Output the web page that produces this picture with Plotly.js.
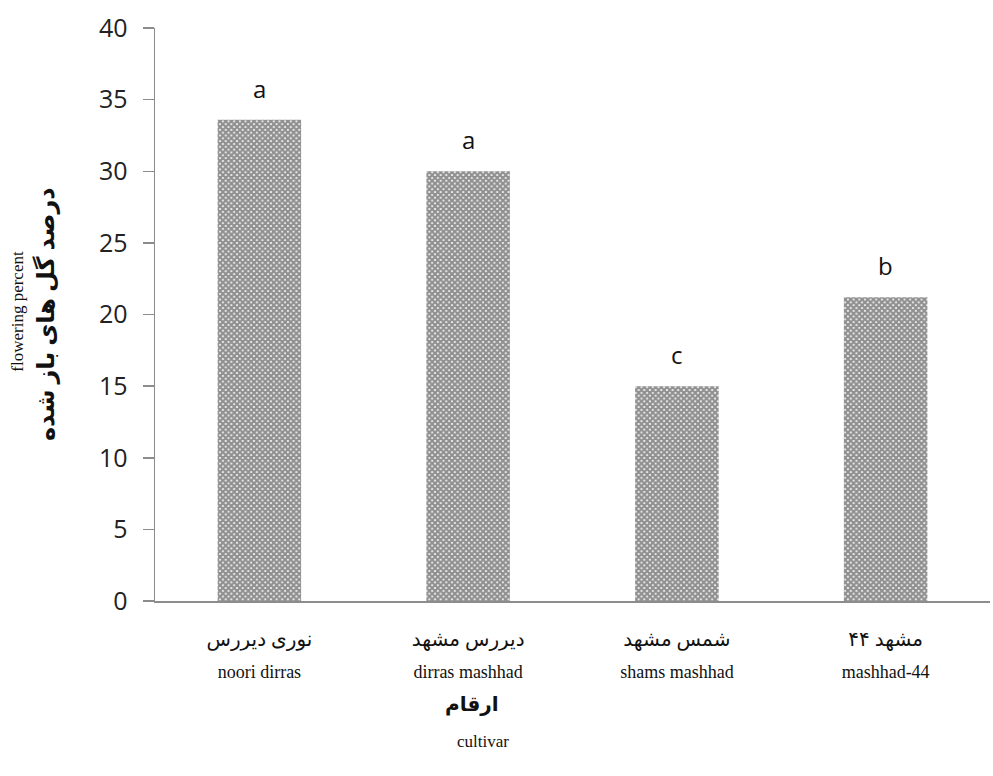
<!DOCTYPE html>
<html>
<head>
<meta charset="utf-8">
<script src="https://cdn.plot.ly/plotly-3.0.1.min.js"></script>
<style>body{margin:0;padding:0;background:#fff;}#chart{width:993px;height:776px;}</style>
</head>
<body>
<div id="chart"></div>
<script>
const categoriesFa = ["نوری دیررس", "دیررس مشهد", "شمس مشهد", "مشهد ۴۴"];
const categoriesEn = ["noori dirras", "dirras mashhad", "shams mashhad", "mashhad-44"];
const values = [33.6, 30.0, 15.0, 21.2];
const letters = ["a", "a", "c", "b"];
const yTicks = [0, 5, 10, 15, 20, 25, 30, 35, 40];
const yTitleEn = "flowering percent";
const yTitleFa = "درصد گل های باز شده";
const xTitleFa = "ارقام";
const xTitleEn = "cultivar";

const serif = "Liberation Serif, 'Times New Roman', DejaVu Serif, DejaVu Sans, serif";
const sans = "'Open Sans', Lato, 'Liberation Sans', sans-serif";

const tickText = categoriesFa.map((fa, i) =>
  `<span style="font-size:20px">${fa}</span><br><span style="font-size:18px">${categoriesEn[i]}</span>`);

const trace = {
  type: "bar",
  x: categoriesEn,
  y: values,
  width: 0.4,
  marker: {
    color: "#ffffff",
    line: {width: 0},
    pattern: {shape: "x", size: 4, solidity: 0.8, fgcolor: "#222222", bgcolor: "#ffffff", fillmode: "overlay"}
  },
  hoverinfo: "none"
};

const annotations = letters.map((l, i) => ({
  x: categoriesEn[i], y: values[i], xref: "x", yref: "y",
  text: l, showarrow: false, yanchor: "bottom", yshift: 13,
  font: {family: sans, size: 24, color: "#111"}
}));
// x-axis titles
annotations.push({
  x: 0.38, y: -0.18, xref: "paper", yref: "paper", showarrow: false,
  text: `<b>${xTitleFa}</b>`, yanchor: "middle",
  font: {family: serif, size: 20, color: "#111"}
});
annotations.push({
  x: 0.393, y: -0.245, xref: "paper", yref: "paper", showarrow: false,
  text: xTitleEn, yanchor: "middle",
  font: {family: serif, size: 17, color: "#111"}
});
// y-axis titles
annotations.push({
  x: -0.164, y: 0.505, xref: "paper", yref: "paper", showarrow: false,
  text: yTitleEn, textangle: -90, xanchor: "center", yanchor: "middle",
  font: {family: serif, size: 17, color: "#111"}
});
annotations.push({
  x: -0.131, y: 0.5, xref: "paper", yref: "paper", showarrow: false,
  text: `<b>${yTitleFa}</b>`, textangle: -90, xanchor: "center", yanchor: "middle",
  font: {family: serif, size: 24, color: "#111"}
});

const layout = {
  width: 993, height: 776,
  margin: {l: 155, r: 3, t: 28, b: 175},
  paper_bgcolor: "#fff", plot_bgcolor: "#fff",
  showlegend: false,
  xaxis: {
    type: "category",
    tickvals: categoriesEn, ticktext: tickText,
    range: [-0.5, 3.5],
    showline: true, linecolor: "#8c8c8c", linewidth: 1.5,
    ticks: "", showgrid: false, zeroline: false,
    ticklabelstandoff: 15,
    tickfont: {family: serif, size: 24, color: "#111"}
  },
  yaxis: {
    range: [0, 40],
    tickvals: yTicks,
    showline: true, linecolor: "#8c8c8c", linewidth: 1.5,
    ticks: "outside", ticklen: 11, tickcolor: "#8c8c8c", tickwidth: 1.5,
    showgrid: false, zeroline: false,
    ticklabelstandoff: 10,
    tickfont: {family: sans, size: 25, color: "#222"}
  },
  annotations: annotations
};

Plotly.newPlot("chart", [trace], layout, {staticPlot: true});
</script>
</body>
</html>
